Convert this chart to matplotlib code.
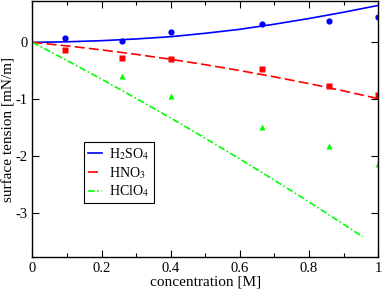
import matplotlib
matplotlib.use("Agg")
import matplotlib.pyplot as plt
from matplotlib.ticker import MultipleLocator, FuncFormatter

plt.rcParams["font.family"] = ["Liberation Serif", "DejaVu Serif"]
plt.rcParams["axes.unicode_minus"] = False
plt.rcParams["mathtext.fontset"] = "stix"

# measured points
conc = [0.095, 0.26, 0.40, 0.665, 0.857, 1.0]
h2so4_pts = [0.075, 0.02, 0.19, 0.32, 0.37, 0.44]
hno3_pts = [-0.13, -0.275, -0.29, -0.46, -0.77, -0.93]
conc_hclo4 = [0.26, 0.40, 0.665, 0.857, 1.0]
hclo4_pts = [-0.60, -0.95, -1.49, -1.82, -2.14]

# fitted curves
fit_x = [0.0, 0.1, 0.2, 0.3, 0.4, 0.5, 0.6, 0.7, 0.8, 0.9, 1.0]
h2so4_fit = [0.0, 0.01, 0.03, 0.06, 0.10, 0.16, 0.23, 0.32, 0.42, 0.53, 0.65]
hno3_fit = [0.0, -0.062, -0.132, -0.211, -0.298, -0.393, -0.496, -0.607, -0.726, -0.854, -0.99]
fit_x_hclo4 = [0.0, 0.1, 0.2, 0.3, 0.4, 0.5, 0.6, 0.7, 0.8, 0.9, 0.955]
hclo4_fit = [0.0, -0.32, -0.648, -0.986, -1.332, -1.688, -2.052, -2.426, -2.808, -3.20, -3.42]

fig = plt.figure(figsize=(3.82, 2.89), dpi=100)
ax = fig.add_axes([0.085, 0.11, 0.905, 0.885])

ax.plot(fit_x, h2so4_fit, color="#0000ff", lw=1.2, label="H$_2$SO$_4$")
ax.plot(fit_x, hno3_fit, color="#ff0000", lw=1.2, dashes=(6, 2.5), label="HNO$_3$")
ax.plot(fit_x_hclo4, hclo4_fit, color="#00ff00", lw=1.2,
        dashes=(4, 1.5, 1, 1.5), label="HClO$_4$")

ax.plot(conc, h2so4_pts, "o", color="#0000ff", ms=4.5, mec="none")
ax.plot(conc, hno3_pts, "s", color="#ff0000", ms=4.3, mec="none")
ax.plot(conc_hclo4, hclo4_pts, "^", color="#00ff00", ms=4.8, mec="none")

ax.set_xlim(0, 1)
ax.set_ylim(-3.78, 0.72)
ax.xaxis.set_major_locator(MultipleLocator(0.2))
ax.xaxis.set_minor_locator(MultipleLocator(0.1))
ax.yaxis.set_major_locator(MultipleLocator(1))
ax.xaxis.set_major_formatter(FuncFormatter(lambda v, p: "%g" % round(v, 2)))
ax.yaxis.set_major_formatter(FuncFormatter(lambda v, p: "%g" % round(v, 2)))
ax.tick_params(which="both", direction="in", top=True, right=True,
               labelsize=10.5, width=0.8, colors="black")
ax.tick_params(which="major", length=5)
ax.tick_params(which="minor", length=3)
ax.tick_params(axis="y", which="minor", left=False, right=False)
for s in ax.spines.values():
    s.set_linewidth(1.0)

ax.set_xlabel("concentration [M]", fontsize=11, labelpad=0)
ax.set_ylabel("surface tension [mN/m]", fontsize=11, labelpad=0)

leg = ax.legend(loc="upper left", bbox_to_anchor=(0.15, 0.45), fontsize=10,
                handlelength=1.0, handletextpad=0.5, labelspacing=0.2,
                borderpad=0.3, borderaxespad=0, fancybox=False, framealpha=1)
leg.get_frame().set_edgecolor("black")
leg.get_frame().set_linewidth(0.8)

fig.savefig("out.png", dpi=100)
